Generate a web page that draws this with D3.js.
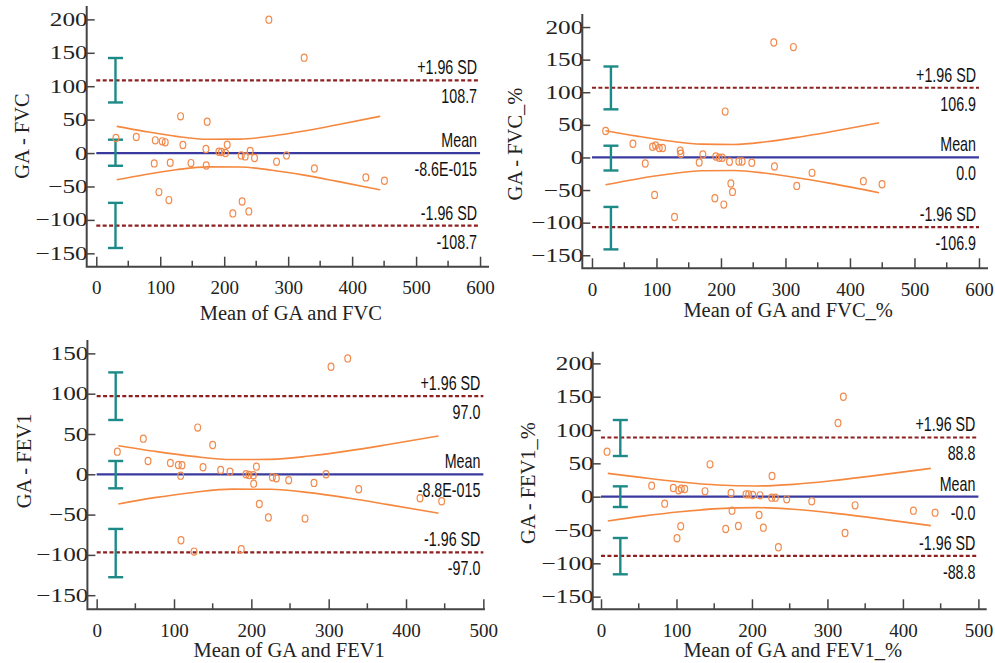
<!DOCTYPE html>
<html>
<head>
<meta charset="utf-8">
<script src="https://cdn.jsdelivr.net/npm/d3@7"></script>
<style>
  body { margin: 0; background: #fff; }
  svg { display: block; }
</style>
</head>
<body>
<div id="chart"></div>
<script>
const width = 995;
const height = 663;

// --- data ---
const fvcX = [269.8, 325, 131.8, 173.4, 30.7, 62.5, 92.2, 103, 107.8, 135.4, 171.4, 191.7, 195.8, 202, 204.7, 226.6, 232.8, 240.6, 247.4, 281.8, 297.4, 341, 421.4, 450.5, 90.6, 115.6, 148, 171.9, 97.9, 113.5, 213.5, 228, 238.5];
const fvcY = [199.6, 142.7, 54.9, 46.9, 22.5, 24, 19, 17.5, 16, 12, 6, 2, 1.5, 0, 12.5, -3.5, -5, 3, -7.5, -13, -3.5, -23, -36.4, -41.4, -15.5, -14.5, -15, -18.5, -58.4, -70.4, -90.3, -72.4, -87.3];

const fvcPctX = [281.9, 312.3, 206.5, 21.2, 63.5, 94, 98.6, 104.3, 109.4, 136.8, 137.8, 171.9, 166.2, 82.6, 192, 197.2, 201.9, 213.2, 227.7, 232.8, 247.8, 282.9, 341.2, 420.8, 449.7, 215.3, 217.9, 317.5, 97.1, 190.5, 204.4, 128];
const fvcPctY = [176.4, 169.2, 70.3, 40.5, 21, 16.4, 18.5, 14.4, 14.4, 10.3, 5.6, 4.6, -7.7, -9.2, 1.5, -0.5, -0.5, -6.7, -6.2, -6.2, -8.2, -13.8, -23.6, -36.4, -41, -40, -52.8, -43.6, -57.4, -62.6, -72.3, -91.3];

const fev1X = [324.6, 303, 130.6, 60.3, 150, 26.7, 66.4, 95.3, 105.6, 110.3, 137.5, 108.6, 160.3, 172.4, 193.1, 197, 202.6, 206.5, 203, 227.2, 232.3, 248.3, 281, 296.6, 338.8, 418.1, 446.1, 210.3, 222, 269.4, 109, 125.9, 187];
const fev1Y = [143.8, 133.5, 57.9, 44.2, 36.4, 28.1, 16.5, 14, 11.6, 11.2, 8.7, -1.7, 5.4, 3.3, 0, -0.8, -1.2, 9.5, -11.6, -3.7, -5, -7.4, -10.7, 0, -18.6, -29.8, -33.5, -36.8, -53.7, -55, -81.8, -95.9, -93];

const fev1PctX = [321.1, 314, 8, 144.4, 226.6, 67.1, 95.8, 102.9, 106.4, 110.9, 137.8, 172.3, 192.1, 195.7, 201, 210.7, 226.1, 231, 246, 279.2, 84.4, 336.6, 173.6, 209.4, 413.9, 442.6, 105.6, 182, 165.2, 215.1, 100.7, 323.3, 235];
const fev1PctY = [150, 110.5, 67.5, 48.5, 31, 16.5, 13, 9.5, 12, 11.5, 8, 5.5, 3.5, 3.5, 2.5, 2, -1.5, -1.5, -4, -7, -10.5, -13, -21, -27.5, -21, -24, -44.5, -44, -48.5, -46.5, -62.5, -54.5, -76];

// limits of agreement: [upper, mean, lower]
const fvcLimits = [108.7, 0, -108.7];
const fvcPctLimits = [106.9, 0, -106.9];
const fev1Limits = [97.0, 0, -97.0];
const fev1PctLimits = [88.8, 0, -88.8];

const fvcLabels = ["108.7", "-8.6E-015", "-108.7"];
const fvcPctLabels = ["106.9", "0.0", "-106.9"];
const fev1Labels = ["97.0", "-8.8E-015", "-97.0"];
const fev1PctLabels = ["88.8", "-0.0", "-88.8"];
const limitNames = ["+1.96 SD", "Mean", "-1.96 SD"];

// confidence intervals drawn as error bars: x, then [low, high] for upper, mean, lower
const fvcCI = [30, [75.7, 142.2], [-19, 20], [-142, -74.5]];
const fvcPctCI = [29.4, [73.8, 139.5], [-20, 18], [-141, -75.9]];
const fev1CI = [24.6, [67.4, 126.4], [-17.4, 16.5], [-127.7, -67.8]];
const fev1PctCI = [25.6, [61, 115], [-15.5, 15.5], [-116.5, -62]];

// orange confidence curves
const fvcCurveX = [32, 75, 125, 175, 225, 275, 325, 375, 444];
const fvcCurveUp = [40, 32.5, 25, 20.6, 20.8, 25.6, 33, 42, 55];
const fvcCurveLo = [-40, -32.5, -25, -20.6, -20.8, -25.6, -33, -42, -55];

const fvcPctCurveX = [21, 70, 120, 170, 220, 270, 320, 370, 445];
const fvcPctCurveUp = [41, 32.7, 25.3, 20.4, 19.9, 24.1, 31.1, 39.4, 53];
const fvcPctCurveLo = [-42, -33, -25.5, -20.5, -20, -24.3, -31.4, -39.8, -54];

const fev1CurveX = [28, 75, 125, 175, 225, 275, 325, 375, 442];
const fev1CurveUp = [35.5, 28.5, 22.2, 18.3, 18.5, 22.6, 29, 36.6, 47.5];
const fev1CurveLo = [-36.8, -29, -22.5, -18.4, -18.6, -22.8, -29.5, -37.3, -48.3];

const fev1PctCurveX = [9, 55, 105, 155, 205, 255, 305, 355, 437];
const fev1PctCurveUp = [35, 28.5, 22.1, 17.5, 16, 18.5, 23.8, 30.4, 42.5];
const fev1PctCurveLo = [-36.5, -29.2, -22.6, -17.9, -16.4, -18.9, -24.3, -31.1, -43.5];

const xTicks600 = [0, 100, 200, 300, 400, 500, 600];
const xTicks500 = [0, 100, 200, 300, 400, 500];
const yTicksA = [-150, -100, -50, 0, 50, 100, 150, 200];
const yTicksB = [-150, -100, -50, 0, 50, 100, 150];

const panels = [
  { xs: fvcX, ys: fvcY, lim: fvcLimits, labels: fvcLabels, ci: fvcCI,
    cx: fvcCurveX, cu: fvcCurveUp, cl: fvcCurveLo,
    xTicks: xTicks600, yTicks: yTicksA,
    xTitle: "Mean of GA and FVC", yTitle: "GA - FVC",
    xDomain: [-15, 614], xRange: [86.7, 489], yDomain: [-170, 220], yRange: [266.7, 6],
    yTitlePos: [29, 136], xTitleY: 320 },
  { xs: fvcPctX, ys: fvcPctY, lim: fvcPctLimits, labels: fvcPctLabels, ci: fvcPctCI,
    cx: fvcPctCurveX, cu: fvcPctCurveUp, cl: fvcPctCurveLo,
    xTicks: xTicks600, yTicks: yTicksA,
    xTitle: "Mean of GA and FVC_%", yTitle: "GA - FVC_%",
    xDomain: [-15, 614], xRange: [582.3, 988], yDomain: [-170, 220], yRange: [268.3, 14],
    yTitlePos: [522, 144], xTitleY: 317 },
  { xs: fev1X, ys: fev1Y, lim: fev1Limits, labels: fev1Labels, ci: fev1CI,
    cx: fev1CurveX, cu: fev1CurveUp, cl: fev1CurveLo,
    xTicks: xTicks500, yTicks: yTicksB,
    xTitle: "Mean of GA and FEV1", yTitle: "GA - FEV1",
    xDomain: [-12, 502], xRange: [87.4, 484.9], yDomain: [-167.5, 166.6], yRange: [609.3, 340],
    yTitlePos: [31, 461], xTitleY: 657 },
  { xs: fev1PctX, ys: fev1PctY, lim: fev1PctLimits, labels: fev1PctLabels, ci: fev1PctCI,
    cx: fev1PctCurveX, cu: fev1PctCurveUp, cl: fev1PctCurveLo,
    xTicks: xTicks500, yTicks: yTicksA,
    xTitle: "Mean of GA and FEV1_%", yTitle: "GA - FEV1_%",
    xDomain: [-11, 511], xRange: [592.7, 986.7], yDomain: [-169, 217.5], yRange: [609.3, 351.7],
    yTitlePos: [535, 483], xTitleY: 657 }
];

const svg = d3.select("#chart").append("svg")
    .attr("width", width)
    .attr("height", height);

const serif = "'Liberation Serif', 'DejaVu Serif', serif";
const sans = "'Liberation Sans', Arial, sans-serif";

panels.forEach(p => {
    const x = d3.scaleLinear().domain(p.xDomain).range(p.xRange);
    const y = d3.scaleLinear().domain(p.yDomain).range(p.yRange);
    const g = svg.append("g");
    const xMax = p.xTicks[p.xTicks.length - 1];

    // limits of agreement and mean
    p.lim.forEach((v, i) => {
        const ln = g.append("line")
            .attr("x1", x(0)).attr("x2", x(xMax))
            .attr("y1", y(v)).attr("y2", y(v));
        if (i === 1) {
            ln.attr("stroke", "#3a3a9e").attr("stroke-width", 2.2);
        } else {
            ln.attr("stroke", "#8e1f1f").attr("stroke-width", 2.2)
              .attr("stroke-dasharray", "4,2.4");
        }
        const right = x(xMax) - 3;
        g.append("text")
            .attr("transform", `translate(${right},${y(v) - 6}) scale(0.68,1)`)
            .attr("text-anchor", "end")
            .style("font-family", sans).style("font-size", "21px").attr("fill", "#111")
            .text(limitNames[i]);
        g.append("text")
            .attr("transform", `translate(${right},${y(v) + 23}) scale(0.68,1)`)
            .attr("text-anchor", "end")
            .style("font-family", sans).style("font-size", "21px").attr("fill", "#111")
            .text(p.labels[i]);
    });

    // orange confidence curves
    const line = d3.line()
        .x((d, i) => x(p.cx[i]))
        .y(d => y(d))
        .curve(d3.curveMonotoneX);
    [p.cu, p.cl].forEach(arr => {
        g.append("path")
            .attr("d", line(arr))
            .attr("fill", "none")
            .attr("stroke", "#f5883e")
            .attr("stroke-width", 1.6);
    });

    // error bars
    const ex = x(p.ci[0]);
    [p.ci[1], p.ci[2], p.ci[3]].forEach(r => {
        const eb = g.append("g").attr("stroke", "#1d8a88").attr("stroke-width", 2.4);
        eb.append("line").attr("x1", ex).attr("x2", ex).attr("y1", y(r[0])).attr("y2", y(r[1]));
        eb.append("line").attr("x1", ex - 7.5).attr("x2", ex + 7.5).attr("y1", y(r[0])).attr("y2", y(r[0]));
        eb.append("line").attr("x1", ex - 7.5).attr("x2", ex + 7.5).attr("y1", y(r[1])).attr("y2", y(r[1]));
    });

    // points
    g.selectAll("ellipse.pt")
        .data(p.xs.map((v, i) => [v, p.ys[i]]))
        .enter().append("ellipse")
        .attr("class", "pt")
        .attr("cx", d => x(d[0]))
        .attr("cy", d => y(d[1]))
        .attr("rx", 2.9)
        .attr("ry", 3.6)
        .attr("fill", "none")
        .attr("stroke", "#f28a4c")
        .attr("stroke-width", 1.2);

    // axes
    const yAxis = d3.axisLeft(y).tickValues(p.yTicks).tickSize(-8).tickPadding(0);
    const ga = g.append("g").attr("transform", `translate(${p.xRange[0]},0)`).call(yAxis);
    ga.select(".domain").remove();
    ga.selectAll(".tick line").attr("stroke", "#444").attr("stroke-width", 1.5);
    ga.selectAll(".tick text")
        .attr("x", null)
        .attr("transform", "translate(1,0) scale(1.33,1)")
        .attr("fill", "#222")
        .style("font-family", serif).style("font-size", "19px");

    const minor = d3.range(50, xMax, 100);
    const gx = g.append("g").attr("transform", `translate(0,${p.yRange[0]})`);
    gx.call(d3.axisBottom(x).tickValues(p.xTicks).tickSize(-10).tickPadding(14))
        .select(".domain").remove();
    gx.selectAll(".tick line").attr("stroke", "#444").attr("stroke-width", 1.5);
    gx.selectAll(".tick text").attr("fill", "#222")
        .style("font-family", serif).style("font-size", "19px");
    gx.selectAll("line.minor")
        .data(minor)
        .enter().append("line")
        .attr("class", "minor")
        .attr("x1", d => x(d)).attr("x2", d => x(d))
        .attr("y1", 0).attr("y2", -6)
        .attr("stroke", "#444").attr("stroke-width", 1.5);

    // axis frame lines
    g.append("path")
        .attr("d", `M${p.xRange[0]},${p.yRange[1]}V${p.yRange[0]}H${p.xRange[1]}`)
        .attr("fill", "none")
        .attr("stroke", "#444")
        .attr("stroke-width", 2);

    // titles
    g.append("text")
        .attr("x", (p.xRange[0] + p.xRange[1]) / 2 + 3)
        .attr("y", p.xTitleY)
        .attr("text-anchor", "middle")
        .style("font-family", serif).style("font-size", "20.5px").attr("fill", "#222")
        .text(p.xTitle);
    g.append("text")
        .attr("transform", `translate(${p.yTitlePos[0]},${p.yTitlePos[1]}) rotate(-90)`)
        .attr("text-anchor", "middle")
        .style("font-family", serif).style("font-size", "20.5px").attr("fill", "#222")
        .text(p.yTitle);
});
</script>
</body>
</html>
